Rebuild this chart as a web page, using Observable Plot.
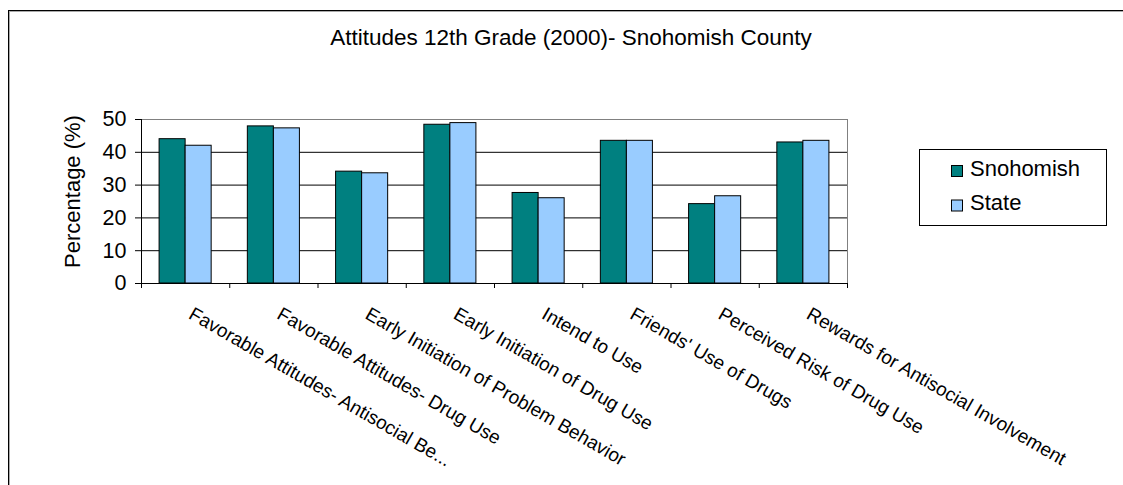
<!DOCTYPE html>
<html>
<head>
<meta charset="utf-8">
<script src="https://cdn.jsdelivr.net/npm/d3@7"></script>
<script src="https://cdn.jsdelivr.net/npm/@observablehq/plot@0.6"></script>
<style>
  html, body { margin: 0; padding: 0; background: #fff; color: #000; overflow: hidden; }
  #wrap { position: relative; width: 1123px; height: 485px; overflow: hidden; background: #fff;
          font-family: "Liberation Sans", Arial, sans-serif; }
  #bl { position: absolute; left: 8px; top: 10px; width: 1px; height: 475px; background: #000; }
  #bl2 { position: absolute; left: 9px; top: 11px; width: 1px; height: 474px; background: #aaa; }
  #bt { position: absolute; left: 8px; top: 10px; width: 1115px; height: 1px; background: #000; }
  #bt2 { position: absolute; left: 9px; top: 11px; width: 1114px; height: 1px; background: #aaa; }
  #title { position: absolute; left: 0; top: 27px; width: 1142px; text-align: center;
           font-size: 22.5px; line-height: 22px; color: #000; white-space: nowrap; }
  #chart { position: absolute; left: 0; top: 0; }
  #legend { position: absolute; left: 919px; top: 149px; }
</style>
</head>
<body>
<div id="wrap">
  <div id="bl"></div><div id="bl2"></div><div id="bt"></div><div id="bt2"></div>
  <div id="chart"></div>
  <div id="title"></div>
  <div id="legend"></div>
</div>
<script>
// ---- data ----
const title = "Attitudes 12th Grade (2000)- Snohomish County";
const yLabel = "Percentage (%)";
const categories = [
  "Favorable Attitudes- Antisocial Be...",
  "Favorable Attitudes- Drug Use",
  "Early Initiation of Problem Behavior",
  "Early Initiation of Drug Use",
  "Intend to Use",
  "Friends' Use of Drugs",
  "Perceived Risk of Drug Use",
  "Rewards for Antisocial Involvement"
];
const seriesNames = ["Snohomish", "State"];
const snohomish = [44.0, 47.9, 34.1, 48.4, 27.6, 43.5, 24.2, 43.0];
const state     = [42.0, 47.3, 33.6, 48.9, 26.0, 43.5, 26.6, 43.5];
const seriesColors = ["#008080", "#99CCFF"];
const yTicks = [0, 10, 20, 30, 40, 50];

// ---- table ----
const seriesValues = [snohomish, state];
const rows = [];
categories.forEach((c, i) => {
  seriesNames.forEach((s, k) => rows.push({cat: c, i, k, series: s, value: seriesValues[k][i]}));
});
const groupPad = 0.205;            // outer gap of each category slot (fraction of slot)
const barW = (1 - 2 * groupPad) / seriesNames.length;

document.getElementById("title").textContent = title;

const chart = Plot.plot({
  width: 1123,
  height: 485,
  marginLeft: 141,
  marginRight: 276,
  marginTop: 119,
  marginBottom: 202,
  style: {fontFamily: "'Liberation Sans', Arial, sans-serif", fontSize: "21.5px", color: "#000", background: "transparent", overflow: "visible"},
  x: {domain: [0, categories.length], ticks: d3.range(categories.length + 1), tickSize: 5, tickFormat: () => "", label: null},
  y: {domain: [0, 50], ticks: yTicks, tickSize: 6, tickPadding: 9, label: null},
  color: {domain: seriesNames, range: seriesColors},
  marks: [
    Plot.ruleY(yTicks.filter(t => t > 0 && t < 50), {stroke: "#000", strokeWidth: 1}),
    Plot.ruleY([50], {stroke: "#808080", strokeWidth: 1}),
    Plot.ruleX([categories.length], {stroke: "#808080", strokeWidth: 1}),
    Plot.rectY(rows, {
      x1: d => d.i + groupPad + d.k * barW,
      x2: d => d.i + groupPad + (d.k + 1) * barW,
      y1: 0,
      y2: "value",
      fill: "series",
      stroke: "#000",
      strokeWidth: 1
    }),
    Plot.ruleY([0], {stroke: "#000", strokeWidth: 1}),
    Plot.ruleX([0], {stroke: "#000", strokeWidth: 1}),
    Plot.text(categories, {
      x: (d, i) => i + 0.5,
      y: 0,
      text: d => d,
      rotate: 30,
      textAnchor: "start",
      dx: 5,
      dy: 29,
      fontSize: 19,
      fill: "#000"
    }),
    Plot.text([yLabel], {
      frameAnchor: "left",
      textAnchor: "middle",
      text: d => d,
      rotate: -90,
      dx: -69,
      dy: -10,
      fontSize: 22,
      fill: "#000"
    })
  ]
});
document.getElementById("chart").appendChild(chart);

// ---- legend ----
const lg = d3.select("#legend").append("svg").attr("width", 190).attr("height", 80);
lg.append("rect").attr("x", 0.5).attr("y", 0.5).attr("width", 187).attr("height", 76)
  .attr("fill", "#fff").attr("stroke", "#000");
seriesNames.forEach((s, k) => {
  const g = lg.append("g").attr("transform", `translate(0, ${k * 34.5})`);
  g.append("rect").attr("x", 32.5).attr("y", 16.5).attr("width", 11).attr("height", 11)
    .attr("fill", seriesColors[k]).attr("stroke", "#000");
  g.append("text").attr("x", 51).attr("y", 26.5).text(s)
    .attr("font-size", 22).attr("font-family", "'Liberation Sans', Arial, sans-serif").attr("fill", "#000");
});
</script>
</body>
</html>
